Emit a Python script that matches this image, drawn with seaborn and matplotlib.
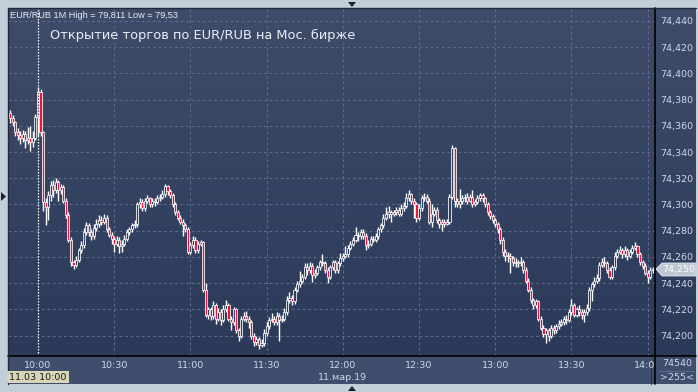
import matplotlib
matplotlib.use("Agg")
import numpy as np
import pandas as pd
import matplotlib.pyplot as plt
import seaborn as sns
from matplotlib.patches import Rectangle, Polygon
from matplotlib.lines import Line2D
from matplotlib.colors import LinearSegmentedColormap

# ---------------- data (1-minute candles, minutes relative to 10:00) ----------------
minutes = list(range(-11, 243))

closes = [
    74.366, 74.363, 74.355, 74.353, 74.351, 74.354, 74.349, 74.351, 74.348, 74.351,
    74.367, 74.386, 74.355, 74.302, 74.298, 74.307, 74.315, 74.311, 74.317, 74.311,
    74.313, 74.303, 74.292, 74.273, 74.256, 74.254, 74.258, 74.265, 74.269, 74.279,
    74.284, 74.279, 74.276, 74.282, 74.285, 74.288, 74.287, 74.290, 74.281, 74.277,
    74.274, 74.270, 74.273, 74.268, 74.270, 74.274, 74.279, 74.281, 74.284, 74.285,
    74.300, 74.302, 74.297, 74.303, 74.305, 74.300, 74.303, 74.302, 74.305, 74.306,
    74.308, 74.314, 74.310, 74.307, 74.300, 74.294, 74.290, 74.287, 74.284, 74.281,
    74.264, 74.269, 74.273, 74.265, 74.270, 74.271, 74.235, 74.216, 74.220, 74.215,
    74.223, 74.213, 74.218, 74.212, 74.220, 74.223, 74.213, 74.210, 74.220, 74.204,
    74.200, 74.213, 74.215, 74.213, 74.210, 74.200, 74.195, 74.197, 74.193, 74.194,
    74.202, 74.207, 74.212, 74.213, 74.210, 74.215, 74.212, 74.213, 74.218, 74.227,
    74.229, 74.226, 74.235, 74.239, 74.242, 74.245, 74.252, 74.250, 74.253, 74.246,
    74.248, 74.252, 74.256, 74.255, 74.250, 74.245, 74.252, 74.256, 74.250, 74.255,
    74.259, 74.261, 74.262, 74.267, 74.270, 74.273, 74.277, 74.276, 74.279, 74.276,
    74.269, 74.270, 74.274, 74.273, 74.276, 74.281, 74.284, 74.290, 74.293, 74.294,
    74.293, 74.294, 74.296, 74.293, 74.297, 74.299, 74.305, 74.308, 74.303, 74.300,
    74.290, 74.297, 74.305, 74.306, 74.303, 74.287, 74.293, 74.296, 74.288, 74.285,
    74.287, 74.285, 74.287, 74.306, 74.343, 74.303, 74.300, 74.303, 74.305, 74.306,
    74.303, 74.306, 74.300, 74.302, 74.305, 74.307, 74.305, 74.300, 74.294, 74.291,
    74.288, 74.285, 74.281, 74.273, 74.264, 74.261, 74.261, 74.259, 74.256, 74.255,
    74.255, 74.256, 74.250, 74.242, 74.235, 74.227, 74.223, 74.226, 74.213, 74.206,
    74.201, 74.204, 74.200, 74.206, 74.204, 74.207, 74.209, 74.210, 74.213, 74.212,
    74.218, 74.223, 74.216, 74.220, 74.218, 74.216, 74.218, 74.221, 74.235, 74.239,
    74.242, 74.244, 74.254, 74.256, 74.255, 74.250, 74.245, 74.252, 74.261, 74.264,
    74.265, 74.262, 74.265, 74.261, 74.264, 74.267, 74.268, 74.262, 74.256, 74.253,
    74.248, 74.245, 74.250, 74.250,
]

highs = [
    74.372, 74.368, 74.364, 74.358, 74.356, 74.357, 74.356, 74.359, 74.360, 74.356,
    74.369, 74.390, 74.388, 74.356, 74.305, 74.310, 74.318, 74.319, 74.320, 74.319,
    74.316, 74.315, 74.305, 74.294, 74.275, 74.258, 74.261, 74.267, 74.272, 74.282,
    74.287, 74.286, 74.281, 74.285, 74.289, 74.292, 74.291, 74.293, 74.292, 74.283,
    74.279, 74.276, 74.276, 74.275, 74.273, 74.277, 74.281, 74.283, 74.286, 74.288,
    74.302, 74.305, 74.304, 74.305, 74.307, 74.306, 74.305, 74.305, 74.307, 74.308,
    74.311, 74.316, 74.315, 74.312, 74.309, 74.302, 74.296, 74.292, 74.289, 74.286,
    74.283, 74.271, 74.276, 74.275, 74.272, 74.273, 74.272, 74.240, 74.222, 74.222,
    74.226, 74.225, 74.221, 74.220, 74.223, 74.227, 74.225, 74.215, 74.222, 74.221,
    74.206, 74.215, 74.218, 74.219, 74.215, 74.212, 74.202, 74.200, 74.199, 74.197,
    74.205, 74.210, 74.214, 74.217, 74.215, 74.218, 74.217, 74.216, 74.221, 74.230,
    74.233, 74.231, 74.237, 74.242, 74.249, 74.247, 74.255, 74.255, 74.256, 74.255,
    74.251, 74.254, 74.258, 74.262, 74.257, 74.252, 74.254, 74.258, 74.258, 74.257,
    74.263, 74.263, 74.268, 74.269, 74.272, 74.275, 74.283, 74.279, 74.281, 74.281,
    74.278, 74.273, 74.276, 74.276, 74.278, 74.283, 74.286, 74.293, 74.298, 74.299,
    74.296, 74.296, 74.298, 74.298, 74.300, 74.302, 74.309, 74.311, 74.309, 74.305,
    74.302, 74.300, 74.307, 74.309, 74.308, 74.305, 74.300, 74.298, 74.298, 74.290,
    74.289, 74.289, 74.289, 74.308, 74.345, 74.344, 74.305, 74.312, 74.307, 74.308,
    74.309, 74.308, 74.311, 74.304, 74.307, 74.309, 74.309, 74.306, 74.302, 74.296,
    74.293, 74.290, 74.287, 74.283, 74.275, 74.266, 74.264, 74.263, 74.261, 74.259,
    74.258, 74.260, 74.258, 74.252, 74.244, 74.237, 74.229, 74.228, 74.227, 74.215,
    74.208, 74.206, 74.206, 74.208, 74.208, 74.209, 74.212, 74.213, 74.215, 74.216,
    74.220, 74.228, 74.225, 74.222, 74.223, 74.220, 74.220, 74.224, 74.237, 74.241,
    74.245, 74.247, 74.256, 74.259, 74.260, 74.257, 74.252, 74.254, 74.264, 74.266,
    74.268, 74.267, 74.268, 74.267, 74.266, 74.269, 74.271, 74.269, 74.264, 74.258,
    74.255, 74.250, 74.252, 74.252,
]

lows = [
    74.362, 74.360, 74.352, 74.349, 74.346, 74.348, 74.343, 74.346, 74.341, 74.344,
    74.349, 74.352, 74.352, 74.295, 74.284, 74.288, 74.303, 74.306, 74.309, 74.303,
    74.308, 74.301, 74.290, 74.271, 74.253, 74.251, 74.252, 74.256, 74.263, 74.267,
    74.277, 74.276, 74.273, 74.274, 74.280, 74.283, 74.284, 74.285, 74.279, 74.275,
    74.270, 74.264, 74.268, 74.263, 74.264, 74.268, 74.272, 74.277, 74.279, 74.282,
    74.283, 74.297, 74.295, 74.295, 74.301, 74.298, 74.298, 74.299, 74.300, 74.303,
    74.304, 74.306, 74.307, 74.305, 74.298, 74.292, 74.288, 74.285, 74.276, 74.279,
    74.262, 74.262, 74.267, 74.263, 74.263, 74.268, 74.233, 74.214, 74.213, 74.212,
    74.213, 74.209, 74.211, 74.208, 74.210, 74.218, 74.211, 74.204, 74.208, 74.202,
    74.196, 74.198, 74.211, 74.210, 74.206, 74.197, 74.192, 74.193, 74.190, 74.191,
    74.192, 74.200, 74.205, 74.210, 74.208, 74.208, 74.196, 74.210, 74.211, 74.216,
    74.225, 74.223, 74.224, 74.233, 74.237, 74.240, 74.243, 74.246, 74.248, 74.241,
    74.244, 74.246, 74.250, 74.253, 74.248, 74.240, 74.243, 74.250, 74.248, 74.248,
    74.253, 74.257, 74.259, 74.260, 74.265, 74.268, 74.271, 74.272, 74.274, 74.274,
    74.265, 74.267, 74.268, 74.271, 74.271, 74.274, 74.279, 74.282, 74.288, 74.290,
    74.287, 74.291, 74.292, 74.291, 74.291, 74.295, 74.297, 74.303, 74.300, 74.290,
    74.287, 74.288, 74.295, 74.303, 74.301, 74.285, 74.283, 74.291, 74.286, 74.282,
    74.280, 74.283, 74.284, 74.285, 74.304, 74.298, 74.298, 74.297, 74.300, 74.302,
    74.300, 74.302, 74.298, 74.299, 74.300, 74.303, 74.302, 74.298, 74.292, 74.289,
    74.286, 74.283, 74.278, 74.270, 74.261, 74.257, 74.256, 74.248, 74.253, 74.252,
    74.252, 74.253, 74.248, 74.240, 74.233, 74.225, 74.220, 74.221, 74.211, 74.204,
    74.199, 74.194, 74.196, 74.198, 74.201, 74.202, 74.205, 74.207, 74.208, 74.209,
    74.210, 74.216, 74.214, 74.214, 74.215, 74.213, 74.210, 74.216, 74.219, 74.226,
    74.237, 74.240, 74.242, 74.252, 74.252, 74.248, 74.243, 74.243, 74.250, 74.259,
    74.262, 74.259, 74.260, 74.258, 74.259, 74.262, 74.265, 74.260, 74.254, 74.251,
    74.246, 74.240, 74.243, 74.248,
]

first_open = 74.370
opens = [first_open] + closes[:-1]

price_ticks = [74.200, 74.220, 74.240, 74.260, 74.280, 74.300, 74.320,
               74.340, 74.360, 74.380, 74.400, 74.420, 74.440]
time_ticks = [0, 30, 60, 90, 120, 150, 180, 210, 240]
time_labels = ["10:00", "10:30", "11:00", "11:30", "12:00", "12:30", "13:00", "13:30", "14:00"]

header_text = "EUR/RUB 1M High = 79,811 Low = 79,53"
title_text = "Открытие торгов по EUR/RUB на Мос. бирже"
date_text = "11.мар.19"
cursor_text = "11.03 10:00"
last_price_text = "74,250"
corner_top = "74540"
corner_bottom = ">255<"

df = pd.DataFrame({"m": minutes, "open": opens, "high": highs, "low": lows, "close": closes})

# ---------------- styling ----------------
sns.set_theme(style="dark")
plt.rcParams['font.family'] = ['DejaVu Sans']

W, H = 698, 392
fig = plt.figure(figsize=(W / 100, H / 100), dpi=100, facecolor='#c3cedb')

def fr(x0, y0, x1, y1):
    return [x0 / W, 1 - y1 / H, (x1 - x0) / W, (y1 - y0) / H]

def fx(x):
    return x / W

def fy(y):
    return 1 - y / H

LBL = '#cdd8ea'

# bottom panel
fig.add_artist(Rectangle((fx(8), fy(384)), (696 - 8) / W, (384 - 356) / H,
                         transform=fig.transFigure, facecolor='#3f4e6c', edgecolor='none', zorder=0))

grad = np.linspace(0, 1, 256).reshape(-1, 1)
cmap_bg = LinearSegmentedColormap.from_list("bg", ['#3e4c69', '#2c3a5a'])

# right panel
axr = fig.add_axes(fr(655, 8, 696, 356))
axr.imshow(grad, aspect='auto', cmap=cmap_bg, extent=[0, 1, 0, 1], origin='upper')
axr.set_axis_off()

# main axes
ax = fig.add_axes(fr(8, 8, 655, 356))
xmin, xmax = -11.8, 242.9
ymin, ymax = 74.1844, 74.4499
ax.imshow(grad, aspect='auto', cmap=cmap_bg, extent=[xmin, xmax, ymin, ymax],
          origin='upper', zorder=0)
ax.set_xlim(xmin, xmax)
ax.set_ylim(ymin, ymax)

# grid
for t in time_ticks[1:]:
    ax.axvline(t, color='#5b6b8b', lw=0.8, ls=(0, (2.5, 2.5)), zorder=1)
for p in price_ticks:
    ax.axhline(p, color='#5b6b8b', lw=0.8, ls=(0, (2.5, 2.5)), zorder=1)

# candles
up = df["close"] >= df["open"]
body_lo = np.minimum(df["open"], df["close"])
body_h = np.maximum(np.abs(df["close"] - df["open"]), 0.0008)
ax.vlines(df["m"], df["low"], df["high"], color='white', lw=1.0, zorder=2)
ax.bar(df["m"], body_h, bottom=body_lo, width=0.82,
       color=np.where(up, '#31405f', '#f0123e'), edgecolor='white', linewidth=0.55, zorder=3)

# 10:00 dotted marker
ax.axvline(0, color='white', lw=0.9, ls=(0, (1.2, 1.2)), zorder=4)

ax.set_xticks([])
ax.yaxis.tick_right()
ax.set_yticks(price_ticks)
ax.set_yticklabels([f"{p:.3f}".replace('.', ',') for p in price_ticks], fontsize=6.8, color=LBL)
ax.tick_params(axis='y', length=0, pad=4)
for s in ax.spines.values():
    s.set_visible(False)
ax.grid(False)

# bottom time axis (clipped texts)
axb = fig.add_axes(fr(8, 356, 655, 384))
axb.set_xlim(xmin, xmax)
axb.set_ylim(0, 28)
axb.set_axis_off()
for t, lab in zip(time_ticks, time_labels):
    axb.text(t, 28 - 9, lab, ha='center', va='center', fontsize=6.8, color=LBL, clip_on=True)
axb.text(120, 28 - 21, date_text, ha='center', va='center', fontsize=6.8, color=LBL, clip_on=True)

# border lines
fig.add_artist(Line2D([fx(8), fx(696)], [fy(356), fy(356)], transform=fig.transFigure, color='black', lw=1.2))
fig.add_artist(Line2D([fx(655), fx(655)], [fy(8), fy(384)], transform=fig.transFigure, color='black', lw=1.2))
fig.add_artist(Line2D([fx(8), fx(8)], [fy(8), fy(384)], transform=fig.transFigure, color='#20283a', lw=1.0))
fig.add_artist(Line2D([fx(8), fx(696)], [fy(8), fy(8)], transform=fig.transFigure, color='#20283a', lw=1.0))
fig.add_artist(Line2D([fx(651), fx(651)], [fy(368), fy(384)], transform=fig.transFigure, color='#2a3448', lw=0.8))

# texts on top
fig.text(fx(10), fy(15), header_text, fontsize=6.6, color='#e6ecf5', va='center', ha='left',
         family=['Liberation Sans', 'DejaVu Sans'])
fig.text(fx(50), fy(35), title_text, fontsize=9.4, color='#e8eef8', va='center', ha='left')

# cursor time box
fig.text(fx(38), fy(377), cursor_text, fontsize=6.8, color='#1b1b1b', va='center', ha='center',
         bbox=dict(boxstyle='square,pad=0.2', facecolor='#d8d5b8', edgecolor='none'))

# last price label
fig.add_artist(Polygon([[fx(656), fy(269)], [fx(662), fy(263)], [fx(696), fy(263)],
                        [fx(696), fy(276)], [fx(662), fy(276)]], closed=True,
                       transform=fig.transFigure, facecolor='#bfc7d2', edgecolor='#e4e8ee', lw=0.6))
fig.text(fx(679), fy(269.5), last_price_text, fontsize=6.8, color='#ffffff', va='center', ha='center')

# corner box
fig.text(fx(677), fy(364), corner_top, fontsize=6.8, color=LBL, va='center', ha='center')
fig.add_artist(Line2D([fx(659), fx(694)], [fy(371), fy(371)], transform=fig.transFigure, color='#5c6c8a', lw=0.7))
fig.text(fx(677), fy(377), corner_bottom, fontsize=6.8, color=LBL, va='center', ha='center')

# small navigation triangles
fig.add_artist(Polygon([[fx(348), fy(2)], [fx(356), fy(2)], [fx(352), fy(7)]], closed=True,
                       transform=fig.transFigure, facecolor='#1a2030', edgecolor='none'))
fig.add_artist(Polygon([[fx(1), fy(192)], [fx(1), fy(201)], [fx(6), fy(196.5)]], closed=True,
                       transform=fig.transFigure, facecolor='#1a2030', edgecolor='none'))
fig.add_artist(Polygon([[fx(348), fy(391)], [fx(356), fy(391)], [fx(352), fy(386)]], closed=True,
                       transform=fig.transFigure, facecolor='#1a2030', edgecolor='none'))

fig.savefig("out.png", dpi=100, facecolor=fig.get_facecolor())
